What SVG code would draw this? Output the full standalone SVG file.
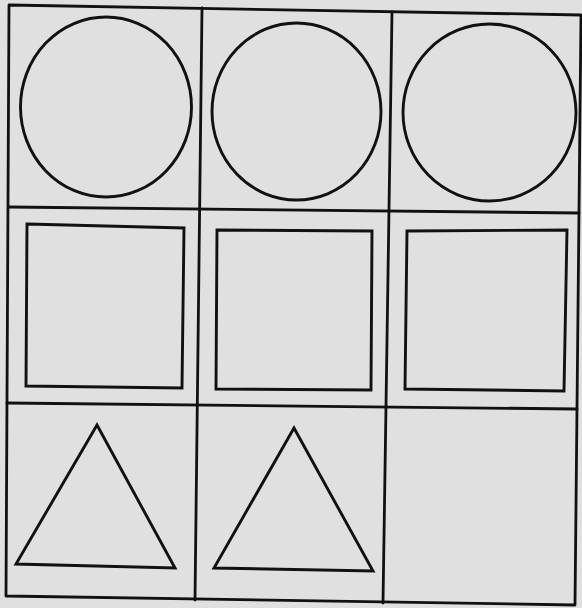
<svg xmlns="http://www.w3.org/2000/svg" width="582" height="608" viewBox="0 0 582 608">
<style>
.g{fill:none;stroke:#111;stroke-width:2.8;stroke-linejoin:round;stroke-linecap:round}
.s{fill:none;stroke:#111;stroke-width:2.9;stroke-linejoin:miter}
</style>
<rect width="582" height="608" fill="#e0e0e0"/>
<g id="grid">
<polygon class="g" points="9,5 581,15 575,605 6,596"/>
<line class="g" x1="202" y1="8" x2="195" y2="600"/>
<line class="g" x1="392" y1="12" x2="383" y2="603"/>
<line class="g" x1="9" y1="207" x2="579" y2="213"/>
<line class="g" x1="7" y1="403" x2="577" y2="409"/>
</g>
<g id="circle1"><ellipse class="s" cx="106" cy="107" rx="85.5" ry="90"/></g>
<g id="circle2"><ellipse class="s" cx="296.5" cy="111.5" rx="84.5" ry="88.5"/></g>
<g id="circle3"><ellipse class="s" cx="489.5" cy="112.5" rx="86.5" ry="88.5"/></g>
<g id="square1"><polygon class="s" points="27,224 184,228 182,388 26,386"/></g>
<g id="square2"><polygon class="s" points="217,230 372,231 371,390 216,389"/></g>
<g id="square3"><polygon class="s" points="407,231 567,230 564,391 405,389"/></g>
<g id="triangle1"><polygon class="s" points="97,425 16,564 175,568"/></g>
<g id="triangle2"><polygon class="s" points="294,428 214,568 373,571"/></g>
</svg>
